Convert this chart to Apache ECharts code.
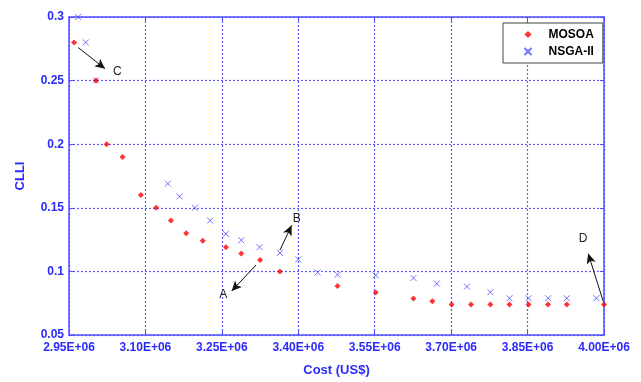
<!DOCTYPE html>
<html><head><meta charset="utf-8">
<script src="https://cdn.jsdelivr.net/npm/echarts@6/dist/echarts.min.js"></script>
<style>html,body{margin:0;padding:0;background:#fff}#c{width:641px;height:382px}</style>
</head><body><div id="c"></div><script>
// ---- data ----
const mosoaCost = [2.960e6, 3.003e6, 3.024e6, 3.055e6, 3.091e6, 3.121e6, 3.150e6, 3.180e6, 3.2125e6, 3.258e6, 3.288e6, 3.325e6, 3.364e6, 3.477e6, 3.552e6, 3.626e6, 3.663e6, 3.701e6, 3.739e6, 3.777e6, 3.8145e6, 3.852e6, 3.890e6, 3.927e6, 4.000e6];
const mosoaCLLI = [0.28, 0.25, 0.20, 0.19, 0.16, 0.15, 0.14, 0.13, 0.124, 0.119, 0.114, 0.109, 0.10, 0.0885, 0.0834, 0.0787, 0.0766, 0.074, 0.074, 0.074, 0.074, 0.074, 0.074, 0.074, 0.074];
const nsgaCost = [2.968e6, 2.983e6, 3.003e6, 3.144e6, 3.167e6, 3.197e6, 3.227e6, 3.258e6, 3.288e6, 3.324e6, 3.364e6, 3.400e6, 3.438e6, 3.477e6, 3.552e6, 3.626e6, 3.672e6, 3.731e6, 3.777e6, 3.8145e6, 3.852e6, 3.8905e6, 3.927e6, 3.985e6];
const nsgaCLLI = [0.30, 0.28, 0.25, 0.169, 0.159, 0.15, 0.14, 0.1295, 0.1245, 0.119, 0.1145, 0.1094, 0.0992, 0.0974, 0.0969, 0.0948, 0.0904, 0.0881, 0.0836, 0.0789, 0.0789, 0.0789, 0.0789, 0.0789];
const xTicks = [2.95e6, 3.10e6, 3.25e6, 3.40e6, 3.55e6, 3.70e6, 3.85e6, 4.00e6];
const yTicks = [0.05, 0.10, 0.15, 0.20, 0.25, 0.30];
const annLabels = ['C', 'A', 'B', 'D'];
const annFrom = [[2.968e6, 0.276], [3.317e6, 0.105], [3.364e6, 0.1167], [3.9986e6, 0.0763]];
const annTo = [[3.0207e6, 0.2594], [3.2693e6, 0.0846], [3.387e6, 0.1362], [3.969e6, 0.114]];
const annText = [[3.0448e6, 0.2573], [3.2528e6, 0.0815], [3.397e6, 0.1414], [3.959e6, 0.1258]];

// ---- styling ----
const axisBlue = '#5050ff';
const gridBlue = '#5a5aff';
const textBlue = '#2a2aff';
const xFmt = v => (v / 1e6).toFixed(2) + 'E+06';
const yFmt = v => String(+v.toFixed(2));

const xStep = xTicks[1] - xTicks[0];
const yStep = yTicks[1] - yTicks[0];

const baseX = {
  type: 'value', min: xTicks[0], max: xTicks[xTicks.length - 1], interval: xStep,
  axisLine: { show: true, lineStyle: { color: axisBlue, width: 1.5 } },
  axisTick: { show: true, inside: true, length: 4, lineStyle: { color: axisBlue } },
};
const baseY = {
  type: 'value', min: yTicks[0], max: yTicks[yTicks.length - 1], interval: yStep,
  axisLine: { show: true, lineStyle: { color: axisBlue, width: 1.5 } },
  axisTick: { show: true, inside: true, length: 4, lineStyle: { color: axisBlue } },
};

const chart = echarts.init(document.getElementById('c'), null, { renderer: 'canvas' });
chart.setOption({
  animation: false,
  backgroundColor: '#fff',
  grid: { left: 69, right: 37, top: 17, bottom: 45, containLabel: false },
  xAxis: [
    Object.assign({}, baseX, {
      position: 'bottom',
      name: 'Cost (US$)', nameLocation: 'middle', nameGap: 29,
      nameTextStyle: { color: textBlue, fontWeight: 'bold', fontSize: 13, fontFamily: 'Liberation Sans, Arial' },
      axisLabel: { color: textBlue, fontWeight: 'bold', fontSize: 12, margin: 7, fontFamily: 'Liberation Sans, Arial', formatter: xFmt },
      splitLine: { show: true, lineStyle: { color: gridBlue, type: [2, 2], width: 1.2 } }
    }),
    Object.assign({}, baseX, {
      position: 'top', axisLabel: { show: false }, splitLine: { show: false }
    })
  ],
  yAxis: [
    Object.assign({}, baseY, {
      position: 'left',
      name: 'CLLI', nameLocation: 'middle', nameGap: 42, nameRotate: 90,
      nameTextStyle: { color: textBlue, fontWeight: 'bold', fontSize: 13, fontFamily: 'Liberation Sans, Arial' },
      axisLabel: { color: textBlue, fontWeight: 'bold', fontSize: 12, margin: 5, fontFamily: 'Liberation Sans, Arial', formatter: yFmt },
      splitLine: { show: true, lineStyle: { color: gridBlue, type: [2, 2], width: 1.2 } }
    }),
    Object.assign({}, baseY, {
      position: 'right', axisLabel: { show: false }, splitLine: { show: false }
    })
  ],
  legend: {
    orient: 'vertical', left: 503, top: 23,
    backgroundColor: '#fff', borderColor: '#444', borderWidth: 1,
    padding: [4, 9, 4, 19], itemGap: 2, itemWidth: 7, itemHeight: 7,
    textStyle: { color: '#000', fontWeight: 'bold', fontSize: 12, lineHeight: 15, padding: [0, 0, 0, 12], fontFamily: 'Liberation Sans, Arial' },
    data: ['MOSOA', 'NSGA-II']
  },
  series: [
    {
      name: 'NSGA-II', type: 'scatter', xAxisIndex: 0, yAxisIndex: 0,
      symbol: 'path://M0,0L10,10M10,0L0,10', symbolSize: 6,
      itemStyle: { color: 'none', borderColor: '#4d4dff', borderWidth: 1 },
      data: nsgaCost.map((c, i) => [c, nsgaCLLI[i]]),
      z: 3
    },
    {
      name: 'MOSOA', type: 'scatter', xAxisIndex: 0, yAxisIndex: 0,
      symbol: 'diamond', symbolSize: 6,
      itemStyle: { color: '#ff0000' },
      data: mosoaCost.map((c, i) => [c, mosoaCLLI[i]]),
      z: 4,
      markLine: {
        silent: true, symbol: ['none', 'arrow'], symbolSize: [7, 10],
        lineStyle: { color: '#111', width: 1, type: 'solid' },
        label: { show: false },
        data: annFrom.map((f, i) => [{ coord: f }, { coord: annTo[i] }])
      },
      markPoint: {
        silent: true, symbol: 'circle', symbolSize: 1,
        itemStyle: { color: 'rgba(0,0,0,0)' },
        label: { show: true, position: 'inside', color: '#222', fontSize: 12, fontFamily: 'Liberation Sans, Arial', formatter: p => p.name },
        data: annText.map((t, i) => ({ name: annLabels[i], coord: t }))
      }
    }
  ]
});
</script></body></html>
